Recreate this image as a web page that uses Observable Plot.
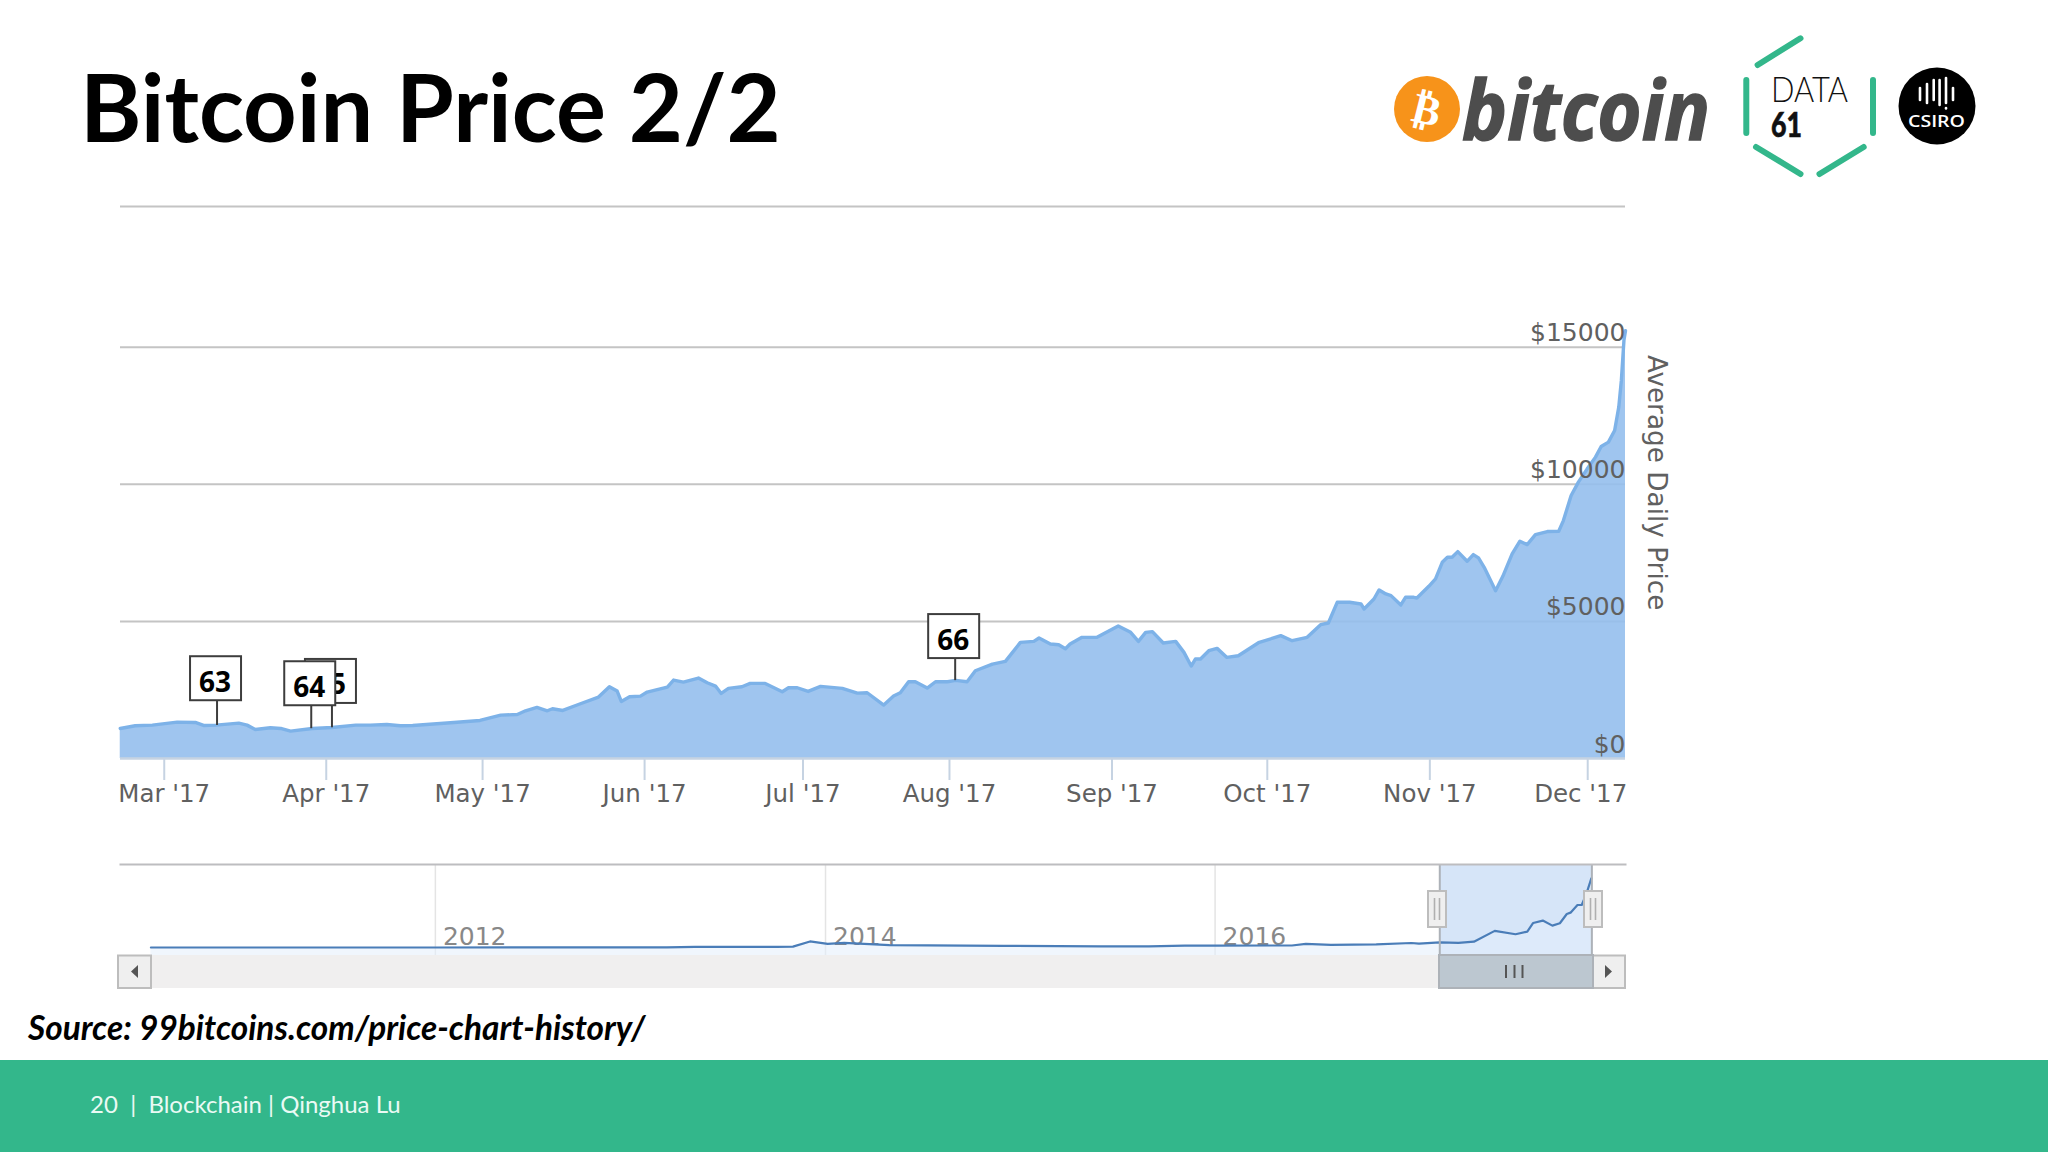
<!DOCTYPE html>
<html>
<head>
<meta charset="utf-8">
<script src="https://cdn.jsdelivr.net/npm/d3@7"></script>
<script src="https://cdn.jsdelivr.net/npm/@observablehq/plot@0.6"></script>
<style>
html,body{margin:0;padding:0;background:#fff;width:2048px;height:1152px;overflow:hidden;position:relative}
.abs{position:absolute}
.t{position:absolute;line-height:1;white-space:pre;font-family:Lato,sans-serif}
svg{display:block}
</style>
</head>
<body>
<div id="main" class="abs" style="left:0;top:0"></div>
<div id="nav" class="abs" style="left:0;top:860px"></div>
<div class="t" style="left:80px;top:60px;font-size:93.5px;font-weight:700;color:#000">Bitcoin Price 2/2</div>
<div class="t" style="left:28px;top:1011px;font-size:33.4px;font-weight:700;font-style:italic;color:#000">Source: 99bitcoins.com/price-chart-history/</div>
<div class="abs" style="left:0;top:1060px;width:2048px;height:92px;background:#33b78b"></div>
<div class="t" style="left:90px;top:1092px;font-size:24px;color:#eafaf4">20  |  Blockchain | Qinghua Lu</div>

<svg class="abs" style="left:0;top:0;pointer-events:none" width="2048" height="1152" viewBox="0 0 2048 1152">
  <!-- bitcoin logo -->
  <ellipse cx="1427" cy="109" rx="33" ry="33" fill="#f7931a"/>
  <text x="1427" y="124" text-anchor="middle" transform="rotate(14 1427 109)" font-family="DejaVu Sans" font-weight="700" font-size="42" fill="#fff">₿</text>
  <text x="1462" y="140" font-family="Open Sans" font-weight="700" font-style="italic" font-size="82" fill="#4d4d4d" stroke="#4d4d4d" stroke-width="1.5" textLength="248" lengthAdjust="spacingAndGlyphs">bitcoin</text>
  <!-- data61 hexagon -->
  <g stroke="#33b78b" stroke-width="6" stroke-linecap="round" fill="none">
    <path d="M1800.5 38.3L1757.6 65"/><path d="M1746.3 80V133"/><path d="M1756 147L1800.5 174"/><path d="M1819.5 174L1863.7 147"/><path d="M1873 80V133"/>
  </g>
  <text x="1771" y="102" font-family="Lato" font-weight="300" font-size="35" fill="#111" textLength="77" lengthAdjust="spacingAndGlyphs">DATA</text>
  <text x="1771" y="137" font-family="Lato" font-weight="900" font-size="35" fill="#111" stroke="#111" stroke-width="0.6" textLength="31" lengthAdjust="spacingAndGlyphs">61</text>
  <!-- csiro -->
  <circle cx="1937" cy="106" r="38.5" fill="#000"/>
  <g stroke="#fff" stroke-width="2.6" stroke-linecap="round">
    <path d="M1920 88V100"/><path d="M1927 84V103"/><path d="M1933.7 80V100"/><path d="M1939.6 80V105"/><path d="M1946 78V103"/><path d="M1946 108V108.5"/><path d="M1953 88V100"/>
  </g>
  <text x="1908" y="127" font-family="Open Sans" font-weight="600" font-size="17" fill="#fff" textLength="57" lengthAdjust="spacingAndGlyphs">CSIRO</text>
  <!-- navigator scrollbar -->
  <rect x="152" y="955" width="1441" height="33" fill="#f0efef"/>
  <rect x="118" y="955.5" width="33" height="32.5" fill="#efefef" stroke="#bdbdbd" stroke-width="2"/>
  <path d="M131 971.5l7-6.5v13z" fill="#555"/>
  <rect x="1593" y="955.5" width="32" height="32.5" fill="#efefef" stroke="#bdbdbd" stroke-width="2"/>
  <path d="M1612 971.5l-7-6.5v13z" fill="#555"/>
  <rect x="1439" y="955" width="154" height="33" fill="#bcc7d0" stroke="#adb2b8" stroke-width="2"/>
  <g stroke="#555" stroke-width="2"><path d="M1506 965V978"/><path d="M1514.5 965V978"/><path d="M1522.5 965V978"/></g>
  <!-- navigator handles -->
  <g fill="#efefef" stroke="#bdbdbd" stroke-width="2">
    <rect x="1428" y="891" width="18" height="36"/><rect x="1584" y="891" width="18" height="36"/>
  </g>
  <g stroke="#b0b0b0" stroke-width="1.6">
    <path d="M1434.5 898V920"/><path d="M1439.5 898V920"/><path d="M1590.5 898V920"/><path d="M1595.5 898V920"/>
  </g>
</svg>

<script>
// Main chart is on a gap-free (ordinal) trading-day axis: position in days from the Mar '17 tick, and average daily price in USD
const priceDays = [-8.5,-5.6,-2.3,2.5,6,7.6,10,14.4,16,17.6,20.5,22.5,24.4,28.6,32.4,37,39.8,43,45.6,48,55.3,61,65,68.2,69.8,72,74,75,77,80.4,83.9,86,87.5,88.3,89.9,92,93.3,97.2,98.4,100.3,103.2,104.9,106.5,107.6,109,111.6,113.2,116.1,119.4,120.6,122.3,124.4,126.8,131,133.9,135.8,139,140.9,142.2,143.8,145.1,147.4,149,151.3,152.9,155.1,156.7,160,162.5,165.4,168,169,171.2,172.8,174.1,175,177.3,180.2,184.3,186.7,188.2,189.6,190.9,193,195.4,197,198.4,199.2,200.2,201.8,203.4,205.3,207.5,211.4,215.7,217.9,220.8,223.4,224.9,226.6,229,231.2,231.8,233.7,234.7,236,237,238.9,239.8,241.4,242,244.3,245.6,246.9,247.9,248.8,249.9,251.7,252.9,253.9,255,257.2,258.6,260.4,261.9,263.3,264.9,267.2,269.4,270.3,271.8,273.2,274.9,276.5,277.6,279,280.2,281,281.5,282,282.3];
const prices = [1095,1193,1217,1326,1314,1205,1217,1290,1217,1059,1120,1095,998,1095,1132,1217,1217,1241,1193,1205,1302,1387,1582,1606,1740,1862,1740,1813,1752,1996,2239,2616,2458,2081,2251,2276,2422,2604,2860,2787,2933,2762,2641,2373,2556,2616,2738,2738,2434,2580,2580,2446,2629,2556,2385,2398,1947,2276,2398,2799,2799,2568,2799,2799,2848,2799,3200,3444,3541,4235,4272,4393,4174,4150,4004,4174,4418,4418,4832,4600,4272,4600,4625,4211,4272,3870,3371,3627,3627,3931,4016,3687,3748,4223,4479,4296,4418,4880,4941,5696,5696,5635,5452,5817,6146,6000,5939,5598,5878,5878,5854,6280,6547,7156,7338,7338,7545,7192,7436,7314,6973,6121,6645,7460,7923,7801,8166,8276,8288,8677,9590,10077,10564,10990,11379,11537,11963,12815,13789,15250,15600];
const priceTicks = [0,5000,10000,15000];
const monthTickDays = [0,31.3,61.5,92.8,123.4,151.7,183.1,213.1,244.5,275];
const monthLabels = ["Mar '17","Apr '17","May '17","Jun '17","Jul '17","Aug '17","Sep '17","Oct '17","Nov '17","Dec '17"];
const xDomainDays = [-8.45,282.3];
const yTop = 20130;
// Event flags, in drawing order
const flagIds = ["65","63","64","66"];
const flagDays = [32.4,10.2,28.4,152.8];
const flagPrices = [1120,1205,1086,2840];
const flagLevels = [2810,2909,2726,4446];
// Navigator series
const navDates = ["2010-07-17","2012-01-01","2013-03-10","2013-05-01","2013-10-01","2013-11-01","2013-12-03","2014-01-05","2014-02-05","2014-05-01","2014-12-01","2015-06-01","2015-08-30","2015-11-05","2016-01-01","2016-05-24","2016-06-19","2016-08-05","2016-10-29","2017-01-03","2017-01-17","2017-02-25","2017-04-01","2017-04-30","2017-06-08","2017-07-17","2017-08-08","2017-08-19","2017-09-06","2017-09-24","2017-10-08","2017-10-21","2017-10-28","2017-11-10","2017-11-18","2017-11-27","2017-12-06"];
const navValues = [0,5,40,120,130,200,1350,800,1050,550,370,250,230,400,430,450,800,580,700,1000,850,1150,1050,1300,3700,2960,3550,5470,6000,4880,5400,7470,7770,9470,9470,12060,15400];
const navYears = ["2012-01-01","2014-01-01","2016-01-01"];
const navLabels = ["2012","2014","2016"];
const navSelection = ["2017-02-25","2017-12-07"];

const iso = s => new Date(s + "T00:00:00Z");
const series = priceDays.map((d,i)=>({day:d,price:prices[i]}));
const flags = flagIds.map((id,i)=>({id,day:flagDays[i],price:flagPrices[i],level:flagLevels[i]}));
const decTick = monthTickDays[monthTickDays.length-1];
const monthName = new Map(monthTickDays.map((m,i)=>[m,monthLabels[i]]));

const FONT = "DejaVu Sans";
const AXIS = "#606060";
const main = Plot.plot({
  width:2048, height:860,
  marginLeft:120, marginRight:423, marginTop:206, marginBottom:102,
  style:{fontFamily:FONT,background:"transparent",overflow:"visible"},
  x:{domain:xDomainDays},
  y:{domain:[0,yTop]},
  marks:[
    Plot.ruleY([yTop,15000,10000,5000],{stroke:"#c4c4c4",strokeWidth:2}),
    Plot.areaY(series,{x:"day",y:"price",fill:"#95bfed",fillOpacity:0.9}),
    Plot.lineY(series,{x:"day",y:"price",stroke:"#7db2e8",strokeWidth:3.4,strokeLinejoin:"round"}),
    Plot.ruleY([0],{stroke:"#c6d3e2",strokeWidth:2.5}),
    Plot.axisX(monthTickDays,{anchor:"bottom",tickSize:22,tickPadding:4,stroke:"#c6d3e2",color:AXIS,fontSize:24.5,strokeWidth:2,
      tickFormat:d=>d===decTick?"":monthName.get(d),label:null}),
    Plot.axisX([decTick],{anchor:"bottom",tickSize:0,tickPadding:26,dx:-7,color:AXIS,fontSize:24.5,tickFormat:d=>monthName.get(d),label:null}),
    Plot.axisY(priceTicks,{anchor:"right",tickSize:0,tickPadding:0,textAnchor:"end",lineAnchor:"bottom",dy:-6,color:AXIS,fontSize:25,
      tickFormat:d=>"$"+d,label:null}),
    Plot.text(["Average Daily Price"],{x:()=>xDomainDays[1],y:()=>10060,dx:31,rotate:90,text:d=>d,fill:AXIS,fontSize:26.3}),
    ...flags.flatMap(f=>[
      Plot.ruleX([f],{x:"day",y1:"price",y2:"level",stroke:"#3d3d3d",strokeWidth:2}),
      Plot.rect([f],{x1:"day",x2:"day",y1:"level",y2:"level",insetLeft:-25.5,insetRight:-25.5,insetTop:-22,insetBottom:-22,fill:"#fff",stroke:"#3d3d3d",strokeWidth:2,dx:-1}),
      Plot.text([f],{x:"day",y:"level",text:"id",dx:-2,dy:4,fill:"#000",fontSize:28,fontWeight:700,fontFamily:"Open Sans"})
    ])
  ]
});
document.getElementById("main").append(main);

const navSeries = navDates.map((d,i)=>({date:iso(d),value:navValues[i]}));
const sel = {start:iso(navSelection[0]),end:iso(navSelection[1])};
const nav = Plot.plot({
  width:2048, height:96,
  marginLeft:120, marginRight:423, marginTop:4, marginBottom:1,
  style:{fontFamily:FONT,background:"transparent",overflow:"visible"},
  x:{type:"utc",domain:[iso("2010-05-21"),iso("2018-02-08")]},
  y:{domain:[0,15600],range:[87,17],axis:null},
  marks:[
    Plot.gridX(navYears.map(iso),{stroke:"#e4e4e4",strokeOpacity:1,strokeWidth:1.5}),
    Plot.rect([sel],{x1:"start",x2:"end",fill:"#d6e5f8"}),
    Plot.areaY(navSeries,{x:"date",y1:-1780,y2:"value",fill:"#e3eefb",fillOpacity:0.55}),
    Plot.axisX(navYears.map(iso),{anchor:"bottom",tickSize:0,tickPadding:-11,lineAnchor:"bottom",textAnchor:"start",dx:7.5,color:"#888",fontSize:25,label:null,
      tickFormat:d=>navLabels[navYears.indexOf(d.toISOString().slice(0,10))]}),
    Plot.lineY(navSeries,{x:"date",y:"value",stroke:"#4a7db8",strokeWidth:2.2}),
    Plot.ruleX([sel.start,sel.end],{stroke:"#adb2b8",strokeWidth:2}),
    Plot.frame({anchor:"top",stroke:"#bdbdc0",strokeWidth:2})
  ]
});
document.getElementById("nav").append(nav);
</script>
</body>
</html>
